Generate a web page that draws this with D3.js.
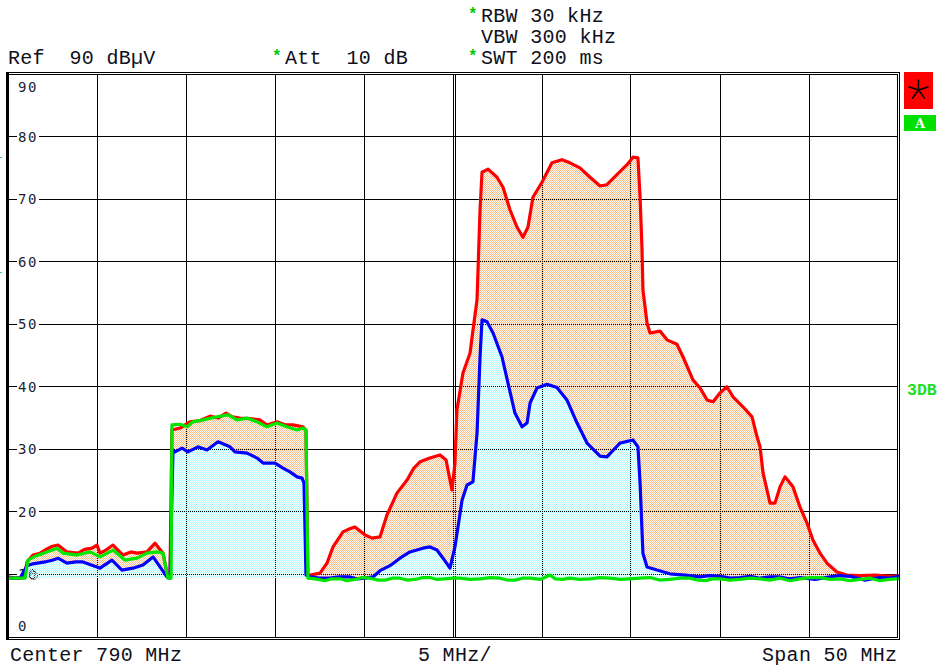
<!DOCTYPE html>
<html>
<head>
<meta charset="utf-8">
<script src="https://cdn.jsdelivr.net/npm/d3@7"></script>
<style>
  html, body { margin: 0; padding: 0; background: #fff; }
  svg { display: block; }
  .hdr { font-family: "Liberation Mono", monospace; font-size: 20px; fill: #101020; letter-spacing: 0.3px; white-space: pre; }
  .tick { font-family: "DejaVu Sans Mono", monospace; font-size: 14px; fill: #1e1e30; letter-spacing: 1.5px; }
</style>
</head>
<body>
<svg id="chart" width="944" height="669"></svg>
<script>
// ---------- data (frequency MHz, level dBµV) ----------
const yTicks = [90, 80, 70, 60, 50, 40, 30, 20, 10, 0];
const xGrid = [770, 775, 780, 785, 790, 795, 800, 805, 810];
const fillBase = 9.4;

const trace1Red = [
[765.00,9.6],[765.39,9.4],[765.90,9.5],[766.07,12.0],[766.40,13.1],[766.80,13.4],[767.08,13.9],[767.50,14.5],[767.81,14.7],[768.31,13.6],[768.93,13.4],[769.30,14.0],[769.72,14.2],[770.00,14.7],[770.17,13.4],[770.50,13.9],[770.90,14.7],[771.46,13.1],[771.90,13.6],[772.25,13.4],[772.81,13.6],[773.26,15.0],[773.71,13.4],[773.93,10.2],[774.10,9.6],
[774.21,33.1],[774.66,33.4],[775.22,34.4],[775.80,34.6],[776.35,35.3],[776.80,35.0],[777.25,35.8],[777.60,35.2],[778.03,35.0],[778.60,34.9],[779.16,34.7],[779.55,33.9],[780.11,34.4],[780.60,33.9],[781.01,33.9],[781.57,33.6],[781.74,33.0],
[781.85,9.9],[781.97,9.9],[782.53,10.2],[782.92,11.8],[783.26,14.4],[783.82,16.8],[784.20,17.3],[784.49,17.6],[785.06,16.3],[785.45,15.8],[785.90,16.0],[786.29,19.5],[786.85,23.0],[787.42,25.1],[787.80,27.0],[788.15,28.0],[788.70,28.6],[789.27,29.1],[789.61,28.3],[789.94,23.5],[790.11,27.8],[790.22,36.3],[790.56,42.2],[790.96,45.4],[791.12,49.0],[791.35,53.9],[791.52,68.3],[791.63,74.3],[791.97,74.8],[792.47,73.5],[792.81,71.9],[793.20,68.3],[793.60,65.5],[793.93,63.9],[794.21,65.5],[794.49,70.3],[795.00,72.7],[795.56,75.8],[796.12,76.3],[796.57,75.8],[797.13,75.0],[797.70,73.5],[798.26,72.1],[798.65,72.3],[799.21,73.9],[799.78,75.5],[800.11,76.7],[800.39,76.6],[800.51,70.3],[800.62,61.9],[800.67,55.5],[800.90,50.2],[801.07,48.6],[801.63,48.9],[802.02,47.5],[802.58,46.8],[802.92,44.8],[803.48,41.1],[803.88,39.8],[804.27,37.9],[804.61,37.6],[805.00,39.0],[805.39,40.0],[805.73,38.4],[806.29,36.8],[806.80,35.2],[807.08,32.0],[807.25,30.4],[807.42,26.2],[807.81,21.4],[808.09,21.4],[808.37,24.0],[808.65,25.6],[809.10,24.0],[809.49,20.8],[809.89,18.2],[810.22,15.5],[810.62,13.4],[811.01,11.8],[811.57,10.4],[812.13,9.9],[812.87,9.8],[813.71,9.9],[814.55,9.7],[815.00,9.8]
];

const trace2Blue = [
[765.00,9.4],[765.67,9.4],[766.07,11.4],[766.40,11.7],[767.08,12.0],[767.53,12.3],[767.81,12.6],[768.31,11.8],[768.80,12.0],[769.21,12.0],[769.60,11.6],[770.00,11.2],[770.17,11.0],[770.84,12.3],[771.40,10.7],[772.02,11.0],[772.58,11.5],[773.15,12.8],[773.54,11.2],[773.93,9.6],[774.10,9.4],
[774.27,29.9],[774.38,29.6],[774.78,30.2],[775.11,29.6],[775.67,30.4],[776.18,29.9],[776.80,31.2],[777.47,30.4],[777.75,29.6],[778.43,29.4],[778.99,28.6],[779.33,27.8],[780.00,27.8],[780.45,27.0],[780.84,26.4],[781.24,25.6],[781.52,25.4],[781.63,24.6],
[781.74,9.9],[781.97,9.6],[782.50,9.4],[783.09,9.4],[783.60,9.6],[784.21,9.6],[784.60,9.3],[785.06,9.4],[785.50,9.6],[785.90,10.6],[786.46,11.4],[787.02,12.6],[787.58,13.6],[788.31,14.2],[788.71,14.4],[789.10,13.9],[789.44,12.6],[789.83,11.0],[790.11,14.4],[790.51,21.9],[790.79,24.3],[791.12,24.8],[791.35,32.6],[791.52,44.8],[791.63,50.7],[791.91,50.4],[792.25,48.6],[792.75,44.8],[793.09,40.6],[793.48,35.8],[793.88,33.6],[794.16,34.2],[794.33,37.4],[794.72,39.8],[795.28,40.4],[795.84,39.9],[796.40,37.9],[796.97,34.2],[797.53,31.0],[798.26,28.9],[798.65,28.8],[799.38,31.0],[800.11,31.5],[800.39,30.4],[800.51,24.6],[800.67,13.4],[800.90,11.2],[801.46,10.7],[802.19,10.1],[803.03,9.9],[803.88,9.6],[804.40,9.8],[805.00,9.7],[805.60,9.4],[806.12,9.5],[806.70,9.7],[807.25,9.4],[807.80,9.6],[808.37,9.6],[808.90,9.3],[809.49,9.5],[810.34,9.2],[811.18,9.6],[811.70,9.8],[812.30,9.7],[813.15,9.1],[813.50,9.3],[813.99,9.5],[814.50,9.4],[815.00,9.7]
];

const trace3Green = [
[765.00,9.4],[765.96,9.4],[766.12,12.3],[766.60,13.0],[767.19,13.6],[767.75,14.2],[768.09,13.4],[768.88,13.1],[769.61,13.6],[770.17,12.8],[770.90,13.9],[771.57,12.3],[772.25,12.6],[772.81,13.4],[773.37,13.6],[773.71,13.4],[773.99,9.4],[774.16,9.4],
[774.21,33.9],[774.66,34.0],[775.06,33.6],[775.39,34.4],[775.96,34.7],[776.74,35.2],[777.36,35.5],[777.87,34.7],[778.43,35.0],[778.99,34.4],[779.55,33.6],[780.11,34.2],[780.67,33.6],[781.24,33.1],[781.57,33.4],[781.74,33.1],
[781.85,9.4],[782.25,9.3],[782.81,9.0],[783.20,9.3],[783.65,9.3],[784.05,9.0],[784.49,9.2],[784.90,9.5],[785.34,9.4],[785.80,9.1],[786.18,9.1],[786.60,9.4],[787.02,9.4],[787.45,9.1],[787.87,9.2],[788.30,9.5],[788.71,9.5],[789.10,9.2],[789.55,9.3],[790.00,9.4],[790.39,9.4],[790.95,9.2],[791.52,9.3],[792.10,9.5],[792.64,9.4],[793.05,9.1],[793.48,9.1],[793.90,9.4],[794.33,9.4],[794.90,9.2],[795.45,9.9],[795.73,9.3],[796.15,9.2],[796.57,9.4],[797.10,9.2],[797.70,9.3],[798.25,9.5],[798.82,9.4],[799.40,9.2],[799.94,9.3],[800.50,9.4],[801.07,9.5],[801.60,9.1],[802.19,9.2],[802.75,9.4],[803.31,9.4],[803.75,9.1],[804.16,9.0],[804.60,9.3],[805.00,9.3],[805.55,9.1],[806.12,9.2],[806.70,9.4],[807.25,9.3],[807.80,9.1],[808.37,9.4],[808.93,9.0],[809.49,9.3],[810.05,9.5],[810.62,9.5],[811.20,9.2],[811.74,9.3],[812.30,9.0],[812.87,9.2],[813.45,9.4],[813.99,9.0],[814.50,9.2],[815.00,9.3]
];

const headerLines = [
  { x: 468, y: 22, star: true,  text: "RBW 30 kHz" },
  { x: 468, y: 43, star: false, text: "VBW 300 kHz" },
  { x: 468, y: 64, star: true,  text: "SWT 200 ms" },
  { x: 272, y: 64, star: true,  text: "Att  10 dB" },
  { x: 8,   y: 64, star: false, text: "Ref  90 dB\u00B5V", noCell: true }
];
const footerLabels = [
  { x: 10,  text: "Center 790 MHz" },
  { x: 418, text: "5 MHz/" },
  { x: 762, text: "Span 50 MHz" }
];

// ---------- drawing ----------
const svg = d3.select("#chart");
const L = 8, R = 898, T = 74, B = 637;
const x = d3.scaleLinear().domain([765, 815]).range([L, R]);
const y = d3.scaleLinear().domain([0, 90]).range([B, T]);

svg.append("rect").attr("width", 944).attr("height", 669).attr("fill", "#fff");

const defs = svg.append("defs");
function checker(id, color) {
  const p = defs.append("pattern").attr("id", id).attr("patternUnits", "userSpaceOnUse")
    .attr("width", 2).attr("height", 2);
  p.append("rect").attr("x", 0).attr("y", 0).attr("width", 1).attr("height", 1).attr("fill", color).attr("shape-rendering", "crispEdges");
  p.append("rect").attr("x", 1).attr("y", 1).attr("width", 1).attr("height", 1).attr("fill", color).attr("shape-rendering", "crispEdges");
}
checker("pOrange", "#FFBB85");
checker("pCyan", "#B0FFFF");

// grid
const g = svg.append("g").attr("shape-rendering", "crispEdges").attr("stroke", "#000").attr("stroke-width", 1);
xGrid.forEach(f => {
  const px = Math.floor(x(f)) + 0.5;
  g.append("line").attr("x1", px).attr("x2", px).attr("y1", T).attr("y2", B);
  if (f === 790) g.append("line").attr("x1", px + 2).attr("x2", px + 2).attr("y1", T).attr("y2", B);
});
yTicks.filter(v => v > 0 && v < 90).forEach(v => {
  const py = Math.floor(y(v)) + 0.5;
  g.append("line").attr("x1", L).attr("x2", R).attr("y1", py).attr("y2", py);
});

// tick labels
yTicks.forEach(v => {
  let cy = y(v);
  if (v === 90) cy = 87;
  if (v === 0) cy = 626;
  if (v > 0 && v < 90) {
    svg.append("rect").attr("x", 17).attr("y", cy - 7).attr("width", 22).attr("height", 14).attr("fill", "#fff");
  }
  svg.append("text").attr("class", "tick").attr("x", 18).attr("y", cy + 5).text(v);
});

// fills
const area = d3.area().x(d => x(d[0])).y0(y(fillBase)).y1(d => y(Math.max(d[1], fillBase)));
svg.append("path").attr("d", area(trace1Red)).attr("fill", "url(#pOrange)");
svg.append("path").attr("d", area(trace2Blue)).attr("fill", "url(#pCyan)");

// traces
const line = d3.line().x(d => x(d[0])).y(d => y(d[1]));
[[trace1Red, "#FF0000"], [trace2Blue, "#0000FF"], [trace3Green, "#00E600"]].forEach(([data, col]) => {
  svg.append("path").attr("d", line(data)).attr("fill", "none").attr("stroke", col)
    .attr("stroke-width", 3.2).attr("stroke-linejoin", "round").attr("stroke-linecap", "square");
});

// marker circle
svg.append("circle").attr("cx", 33.5).attr("cy", 575.5).attr("r", 4).attr("fill", "none")
  .attr("stroke", "#000").attr("stroke-width", 1).attr("stroke-dasharray", "1,1");

// frame
const fr = svg.append("g").attr("shape-rendering", "crispEdges").attr("stroke", "#000").attr("fill", "none");
fr.append("rect").attr("x", 6).attr("y", 72).attr("width", 3).attr("height", 568).attr("fill", "#000").attr("stroke", "none");
fr.append("line").attr("x1", 6).attr("x2", 900).attr("y1", 72.5).attr("y2", 72.5);
fr.append("line").attr("x1", 6).attr("x2", 898).attr("y1", 74.5).attr("y2", 74.5);
fr.append("line").attr("x1", 897.5).attr("x2", 897.5).attr("y1", 74).attr("y2", 638);
fr.append("line").attr("x1", 899.5).attr("x2", 899.5).attr("y1", 72).attr("y2", 640);
fr.append("line").attr("x1", 6).attr("x2", 898).attr("y1", 637.5).attr("y2", 637.5);
fr.append("line").attr("x1", 6).attr("x2", 900).attr("y1", 639.5).attr("y2", 639.5);

// header texts
headerLines.forEach(h => {
  const t = svg.append("text").attr("class", "hdr").attr("x", h.x).attr("y", h.y);
  if (!h.noCell) {
    t.append("tspan").attr("fill", "#00C800").attr("font-size", "16px").attr("font-weight", "bold").attr("dy", -3).text(h.star ? "*" : " ");
    t.append("tspan").attr("x", h.x + 13).attr("dy", 3).text(h.text);
  } else {
    t.text(h.text);
  }
});
footerLabels.forEach(f => {
  svg.append("text").attr("class", "hdr").attr("x", f.x).attr("y", 661).text(f.text);
});

// right side status boxes
svg.append("rect").attr("x", 904).attr("y", 72).attr("width", 29).attr("height", 37).attr("fill", "#FF0000");
const cx = 918.5, cyS = 90;
const arms = svg.append("g").attr("stroke", "#000").attr("stroke-width", 1.5);
[-90, -18, 54, 126, 198].forEach(a => {
  const r = a * Math.PI / 180;
  arms.append("line").attr("x1", cx).attr("y1", cyS).attr("x2", cx + 10.5 * Math.cos(r)).attr("y2", cyS + 10.5 * Math.sin(r));
});
svg.append("rect").attr("x", 904).attr("y", 115).attr("width", 32).attr("height", 16).attr("fill", "#00E000");
svg.append("text").attr("x", 920).attr("y", 128).attr("text-anchor", "middle")
  .attr("font-family", "DejaVu Serif").attr("font-weight", "bold").attr("font-size", "13px")
  .attr("fill", "#fff").text("A");
svg.append("text").attr("x", 907).attr("y", 395).attr("font-family", "Liberation Mono")
  .attr("font-weight", "bold").attr("font-size", "16.5px").attr("fill", "#22DD22").text("3DB");

// small edge marks
[157, 272].forEach(py => svg.append("rect").attr("x", 0).attr("y", py).attr("width", 2).attr("height", 1).attr("fill", "#40C0C0"));
</script>
</body>
</html>
